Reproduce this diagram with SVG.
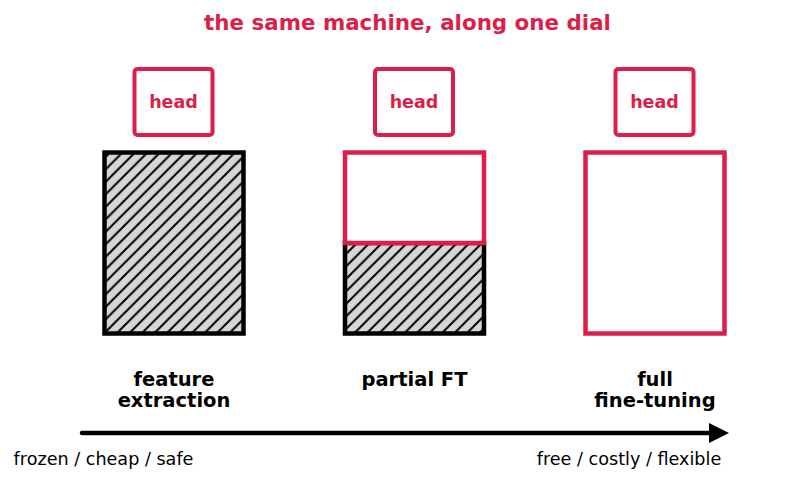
<svg xmlns="http://www.w3.org/2000/svg" width="801" height="483" viewBox="0 0 801 483">
  <defs>
    <!-- diagonal hatch for frozen layers -->
    <pattern id="hatch" patternUnits="userSpaceOnUse" width="12.5" height="12.5">
      <rect width="12.5" height="12.5" fill="#d6d6d6"/>
      <path d="M-1,13.5 L13.5,-1 M-3,3 L3,-3 M9.5,15.5 L15.5,9.5" stroke="#000" stroke-width="2"/>
    </pattern>
    <marker id="arrowhead" markerUnits="userSpaceOnUse" markerWidth="22" markerHeight="22" refX="2" refY="10" orient="auto">
      <path d="M0,0 L20,10 L0,20 Z" fill="#000"/>
    </marker>
  </defs>
  <style>
    .title { font-family: "DejaVu Sans", sans-serif; font-weight: bold; font-size: 21.4px; fill: #dc1e4a; }
    .head rect { fill: #fff; stroke: #dc1e4a; stroke-width: 4; }
    .head text { font-family: "DejaVu Sans", sans-serif; font-weight: bold; font-size: 17.5px; fill: #dc1e4a; }
    .frozen { fill: url(#hatch); stroke: #000; stroke-width: 4.5; }
    .free { fill: #fff; stroke: #dc1e4a; stroke-width: 4.5; }
    .label { font-family: "DejaVu Sans", sans-serif; font-weight: bold; font-size: 19.5px; fill: #000; }
    .axis { font-family: "DejaVu Sans", sans-serif; font-size: 17.6px; fill: #000; }
  </style>

  <text class="title" x="407.5" y="30" text-anchor="middle">the same machine, along one dial</text>

  <!-- feature extraction: whole backbone frozen -->
  <g id="feature-extraction">
    <g class="head">
      <rect x="134.5" y="69" width="78" height="66" rx="3"/>
      <text x="173.5" y="108" text-anchor="middle">head</text>
    </g>
    <rect class="frozen" x="104.5" y="152.5" width="139" height="181"/>
    <text class="label" x="174" y="386" text-anchor="middle">feature</text>
    <text class="label" x="174" y="407" text-anchor="middle">extraction</text>
  </g>

  <!-- partial fine-tuning: lower half frozen, upper half trainable -->
  <g id="partial-ft">
    <g class="head">
      <rect x="375" y="69" width="78" height="66" rx="3"/>
      <text x="414" y="108" text-anchor="middle">head</text>
    </g>
    <rect class="frozen" x="345" y="243" width="139" height="90.5"/>
    <rect class="free" x="345" y="152.5" width="139" height="90.5"/>
    <text class="label" x="414.5" y="386" text-anchor="middle">partial FT</text>
  </g>

  <!-- full fine-tuning: everything trainable -->
  <g id="full-fine-tuning">
    <g class="head">
      <rect x="615.5" y="69" width="78" height="66" rx="3"/>
      <text x="654.5" y="108" text-anchor="middle">head</text>
    </g>
    <rect class="free" x="585.5" y="152.5" width="139" height="181"/>
    <text class="label" x="655" y="386" text-anchor="middle">full</text>
    <text class="label" x="655" y="407" text-anchor="middle">fine-tuning</text>
  </g>

  <!-- the dial -->
  <g id="connectors">
    <line x1="82" y1="433" x2="711" y2="433" stroke="#000" stroke-width="4.5" stroke-linecap="round" marker-end="url(#arrowhead)"/>
  </g>
  <text class="axis" x="103.5" y="465" text-anchor="middle">frozen / cheap / safe</text>
  <text class="axis" x="629" y="465" text-anchor="middle">free / costly / flexible</text>
</svg>
